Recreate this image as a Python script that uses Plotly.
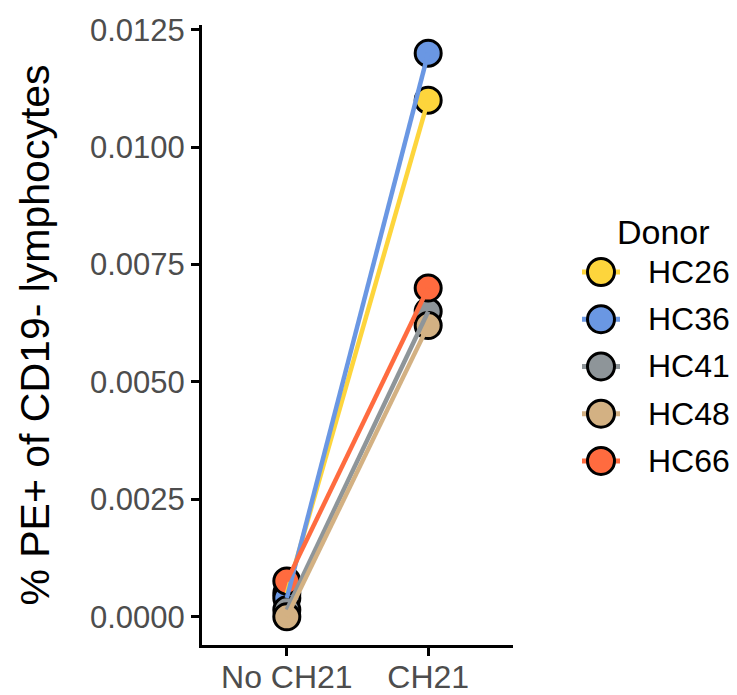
import plotly.graph_objects as go

conditions = ["No CH21", "CH21"]
donors = ["HC26", "HC36", "HC41", "HC48", "HC66"]
colors = ["#FDD53C", "#6A97E3", "#8E9599", "#D3B183", "#FF6B3F"]
no_ch21 = [0.00050, 0.00040, 0.00015, 0.00000, 0.00076]
ch21 = [0.01100, 0.01200, 0.00650, 0.00620, 0.00700]
y_ticks = [0.0, 0.0025, 0.005, 0.0075, 0.01, 0.0125]

# page body has an 8px margin; lay out in screen pixels and shift
OFF = 8
W, H = 737 - OFF, 695 - OFF
L = 202 - OFF
T = 25 - OFF
B = H - (645 - OFF)
R = 0
plot_w = W - L - R
plot_h = H - T - B
main_frac = 311 / plot_w


def px_x(sx):
    return (sx - OFF - L) / plot_w


def px_y(sy):
    return (H - B - (sy - OFF)) / plot_h


font_family = "Liberation Sans, Arial, sans-serif"

fig = go.Figure()

# points first
for d, c, a, b in zip(donors, colors, no_ch21, ch21):
    fig.add_trace(go.Scatter(
        x=conditions, y=[a, b], mode="markers", showlegend=False,
        marker=dict(size=26, color=c, line=dict(color="black", width=3)),
        name=d))
# lines on top
for d, c, a, b in zip(donors, colors, no_ch21, ch21):
    fig.add_trace(go.Scatter(
        x=conditions, y=[a, b], mode="lines", showlegend=False,
        line=dict(color=c, width=4.5), name=d))

# custom legend keys (in a separate small axis)
for i, (d, c) in enumerate(zip(donors, colors)):
    fig.add_trace(go.Scatter(
        x=[-0.5, 0.5], y=[i, i], mode="lines", xaxis="x2", yaxis="y2",
        line=dict(color=c, width=5), showlegend=False, hoverinfo="skip"))
    fig.add_trace(go.Scatter(
        x=[0], y=[i], mode="markers", xaxis="x2", yaxis="y2",
        marker=dict(size=27, color=c, line=dict(color="black", width=3)),
        showlegend=False, name=d))
    fig.add_annotation(
        x=px_x(646), xref="paper", y=i, yref="y2", text=d, showarrow=False,
        xanchor="left", yanchor="middle",
        font=dict(family=font_family, size=32, color="black"))

fig.add_annotation(
    x=px_x(615), xref="paper", y=px_y(232), yref="paper", text="Donor",
    showarrow=False, xanchor="left", yanchor="middle",
    font=dict(family=font_family, size=34, color="black"))

top_px, bot_px = 272 - 23.6, 461 + 23.6

fig.update_layout(
    width=W, height=H,
    margin=dict(l=L, r=R, t=T, b=B, autoexpand=False),
    paper_bgcolor="white", plot_bgcolor="white",
    font=dict(family=font_family),
    xaxis=dict(
        domain=[0, main_frac], type="category", range=[-0.6, 1.6],
        showline=True, linecolor="black", linewidth=3, automargin=False,
        ticks="outside", ticklen=8, tickwidth=2.5, tickcolor="black",
        ticklabelstandoff=-6,
        tickfont=dict(size=32, color="#4D4D4D"), showgrid=False, zeroline=False),
    yaxis=dict(
        range=[-0.0006, 0.0126], tickvals=y_ticks,
        ticktext=[f"{v:.4f}" for v in y_ticks], automargin=False,
        showline=True, linecolor="black", linewidth=3,
        ticks="outside", ticklen=8, tickwidth=2.5, tickcolor="black",
        tickfont=dict(size=31, color="#4D4D4D"), showgrid=False, zeroline=False,
        title=dict(text="% PE+ of CD19- lymphocytes", standoff=28,
                   font=dict(size=41, color="black"))),
    xaxis2=dict(domain=[px_x(582), px_x(620)], range=[-0.5, 0.5], visible=False,
                anchor="y2", fixedrange=True),
    yaxis2=dict(domain=[px_y(bot_px), px_y(top_px)],
                range=[len(donors) - 0.5, -0.5], visible=False,
                anchor="x2", fixedrange=True),
)

fig.write_html("out.html")
